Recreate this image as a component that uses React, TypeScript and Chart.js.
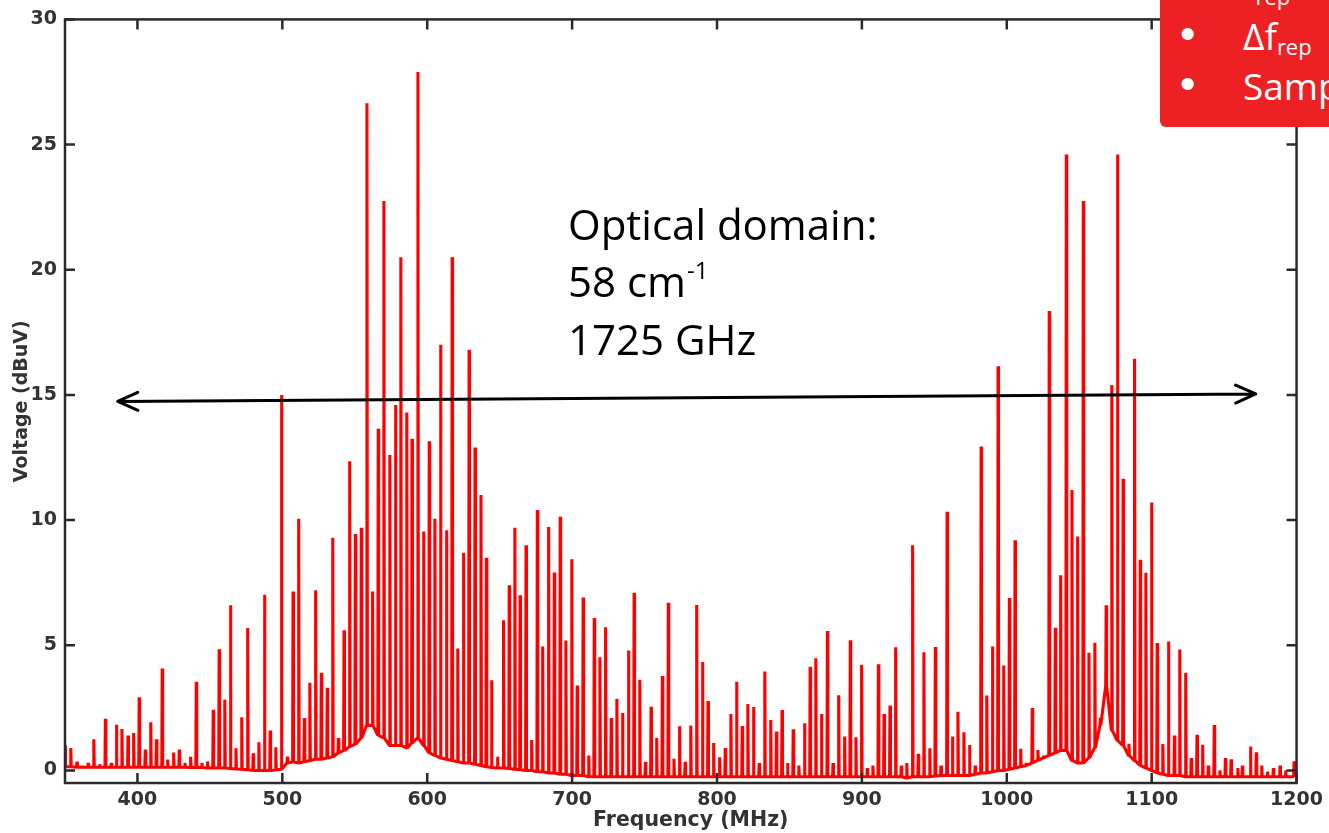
import React, { useEffect, useRef } from 'react';
import { Chart, registerables } from 'chart.js';

Chart.register(...registerables);

// ---------- axes ----------
const xRange = [350, 1200];
const yRange = [-0.5, 30];
const xTickValues = [400, 500, 600, 700, 800, 900, 1000, 1100, 1200];
const yTickValues = [0, 5, 10, 15, 20, 25, 30];
const xTitle = 'Frequency (MHz)';
const yTitle = 'Voltage (dBuV)';

// ---------- spectrum: [frequency MHz, peak dBuV, floor dBuV under the spike] ----------
const lowBandPeaks: [number, number, number][] = [
  [350.0, 1.0, 0.15], [354.0, 0.9, 0.15], [358.3, 0.35, 0.13], [362.1, 0.2, 0.13], [366.0, 0.3, 0.13],
  [369.9, 1.25, 0.13], [374.0, 0.25, 0.13], [377.9, 2.07, 0.13], [382.0, 0.3, 0.13], [385.5, 1.83, 0.13],
  [389.3, 1.66, 0.13], [393.5, 1.4, 0.13], [397.4, 1.5, 0.13], [401.2, 2.92, 0.13], [405.4, 0.84, 0.13],
  [409.2, 1.93, 0.13], [413.1, 1.25, 0.13], [417.1, 4.07, 0.13], [420.9, 0.44, 0.13], [425.0, 0.72, 0.13],
  [428.9, 0.84, 0.13], [432.8, 0.3, 0.13], [436.7, 0.55, 0.12], [440.6, 3.54, 0.12], [444.5, 0.3, 0.12],
  [448.4, 0.36, 0.1], [452.3, 2.43, 0.1], [456.4, 4.84, 0.1], [460.3, 2.83, 0.1], [464.2, 6.6, 0.08],
  [468.0, 0.89, 0.06], [472.0, 2.13, 0.05], [476.1, 5.69, 0.03], [479.9, 0.69, 0.0], [483.8, 1.13, 0.0],
  [487.7, 7.02, 0.0], [491.6, 1.6, 0.0], [495.5, 0.93, 0.02],
];

const firstClusterPeaks: [number, number, number][] = [
  [499.4, 15.0, 0.05], [503.5, 0.55, 0.3], [507.4, 7.15, 0.35], [511.3, 10.05, 0.3], [515.2, 2.1, 0.35],
  [519.0, 3.5, 0.4], [523.0, 7.2, 0.45], [526.9, 3.9, 0.45], [531.0, 3.3, 0.5], [534.8, 9.3, 0.55],
  [538.7, 1.3, 0.7], [542.6, 5.6, 0.8], [546.5, 12.35, 0.95], [550.4, 9.45, 1.05], [554.5, 9.7, 1.3],
  [558.4, 26.65, 1.8], [562.3, 7.15, 1.8], [566.2, 13.65, 1.4], [570.1, 22.75, 1.3], [574.2, 12.6, 1.0],
  [578.1, 14.6, 1.0], [581.8, 20.5, 1.0], [585.9, 14.3, 0.9], [589.5, 13.25, 1.1], [593.6, 27.9, 1.3],
  [597.6, 9.55, 1.0], [601.4, 13.15, 0.7], [605.3, 10.05, 0.6], [609.2, 17.0, 0.5], [613.3, 9.6, 0.45],
  [617.2, 20.5, 0.4], [621.1, 4.87, 0.35], [625.0, 8.7, 0.3], [628.9, 16.8, 0.3], [633.0, 12.9, 0.25],
  [637.1, 11.0, 0.2], [640.8, 8.5, 0.15], [644.4, 3.6, 0.12], [648.5, 0.55, 0.1],
];

const midBandPeaks: [number, number, number][] = [
  [652.7, 6.0, 0.1], [656.6, 7.4, 0.08], [660.5, 9.7, 0.05], [664.1, 7.0, 0.03], [668.2, 9.0, 0.0],
  [672.1, 1.22, 0.0], [676.0, 10.4, -0.05], [679.7, 4.95, -0.05], [683.8, 9.73, -0.1], [687.7, 7.91, -0.1],
  [691.8, 10.13, -0.15], [695.7, 5.19, -0.15], [699.8, 8.44, -0.2], [703.5, 3.39, -0.2], [707.6, 6.91, -0.2],
  [711.5, 0.6, -0.25], [715.3, 6.09, -0.25], [719.2, 4.52, -0.25], [723.1, 5.72, -0.25], [727.0, 2.1, -0.25],
  [730.9, 2.86, -0.25], [734.8, 2.3, -0.25], [738.9, 4.79, -0.25], [742.8, 7.1, -0.25], [746.7, 3.62, -0.25],
  [750.6, 0.35, -0.25], [754.5, 2.55, -0.25], [758.4, 1.3, -0.25], [762.3, 3.77, -0.25], [766.4, 6.7, -0.25],
  [770.3, 0.47, -0.25], [774.2, 1.77, -0.25], [778.0, 0.35, -0.25], [781.9, 1.8, -0.25], [786.0, 6.61, -0.25],
  [790.0, 4.33, -0.25], [793.8, 2.77, -0.25], [797.7, 1.1, -0.25], [801.8, 0.53, -0.25], [805.7, 0.9, -0.25],
  [809.6, 2.26, -0.25], [813.5, 3.54, -0.25], [817.4, 1.78, -0.25], [821.3, 2.66, -0.25], [825.2, 2.54, -0.25],
  [829.1, 0.3, -0.25], [833.0, 3.95, -0.25], [837.1, 2.02, -0.25], [841.0, 1.56, -0.25], [844.9, 2.42, -0.25],
  [848.7, 0.3, -0.25], [852.6, 1.65, -0.25], [856.5, 0.2, -0.25], [860.4, 1.89, -0.25], [864.3, 4.14, -0.25],
  [868.2, 4.48, -0.25], [872.1, 2.26, -0.25], [876.2, 5.57, -0.25], [880.1, 0.3, -0.25], [884.0, 3.0, -0.25],
  [888.1, 1.36, -0.25], [892.0, 5.2, -0.25], [895.9, 1.33, -0.25], [899.8, 4.22, -0.25], [903.7, 0.1, -0.25],
  [907.6, 0.2, -0.25], [911.4, 4.24, -0.25], [915.3, 2.26, -0.25], [919.4, 2.6, -0.25], [923.3, 4.92, -0.25],
  [927.2, 0.2, -0.25], [931.0, 0.3, -0.3], [935.0, 9.0, -0.25], [938.9, 0.67, -0.25], [942.8, 4.72, -0.25],
  [946.9, 0.89, -0.25], [950.7, 4.93, -0.22], [954.6, 0.2, -0.2], [958.8, 10.33, -0.2],
];

const secondClusterPeaks: [number, number, number][] = [
  [962.5, 1.36, -0.2], [966.3, 2.35, -0.2], [970.4, 1.53, -0.2], [974.3, 1.02, -0.2], [978.2, 0.2, -0.15],
  [982.3, 12.94, -0.1], [986.2, 2.99, -0.1], [990.1, 4.95, -0.05], [994.0, 16.15, 0.0], [997.9, 4.19, 0.0],
  [1001.8, 6.89, 0.05], [1005.7, 9.2, 0.1], [1009.6, 0.87, 0.15], [1013.5, 0.3, 0.2], [1017.6, 2.5, 0.3],
  [1021.5, 0.82, 0.4], [1025.3, 0.6, 0.5], [1029.3, 18.35, 0.6], [1033.5, 5.7, 0.7], [1037.2, 7.8, 0.8],
  [1041.1, 24.6, 0.8], [1045.0, 11.2, 0.4], [1048.9, 9.35, 0.3], [1052.8, 22.75, 0.3], [1056.7, 4.7, 0.5],
  [1060.8, 5.1, 0.9], [1064.6, 2.1, 1.8], [1068.6, 6.6, 3.4], [1072.5, 15.4, 1.6], [1076.4, 24.6, 1.2],
  [1080.3, 11.65, 1.0], [1084.3, 1.07, 0.6], [1088.2, 16.45, 0.4], [1092.1, 8.42, 0.2], [1096.0, 7.9, 0.1],
  [1099.9, 10.7, 0.0],
];

const highBandPeaks: [number, number, number][] = [
  [1103.8, 5.09, -0.1], [1107.7, 1.06, -0.15], [1111.6, 5.15, -0.2], [1115.7, 1.4, -0.2], [1119.4, 4.83, -0.2],
  [1123.5, 3.9, -0.25], [1127.3, 0.5, -0.25], [1131.3, 1.43, -0.25], [1135.2, 1.03, -0.25], [1139.1, 0.2, -0.25],
  [1143.2, 1.82, -0.25], [1147.1, 0.0, -0.25], [1150.9, 0.5, -0.25], [1154.8, 0.45, -0.25], [1159.5, 0.1, -0.25],
  [1162.6, 0.2, -0.25], [1168.2, 0.96, -0.25], [1172.2, 0.73, -0.25], [1176.0, 0.2, -0.25], [1180.0, -0.05, -0.25],
  [1184.0, 0.1, -0.25], [1188.6, 0.2, -0.25], [1192.5, 0.0, -0.25], [1198.3, 0.37, -0.25],
];

// ---------- annotation (data coordinates) ----------
const arrowFrom = [386.4, 14.74];
const arrowTo = [1171.8, 15.04];
const annotationLines = ['Optical domain:', '58 cm', '1725 GHz'];

const SPIKE_HALF_WIDTH = 0.3; // MHz

function buildSpectrum() {
  const all = [...lowBandPeaks, ...firstClusterPeaks, ...midBandPeaks, ...secondClusterPeaks, ...highBandPeaks];
  const pts: { x: number; y: number }[] = [];
  for (const [f, h, fl] of all) {
    pts.push({ x: f - SPIKE_HALF_WIDTH, y: fl });
    pts.push({ x: f, y: h });
    pts.push({ x: f + SPIKE_HALF_WIDTH, y: fl });
  }
  return pts;
}

const AXIS_COLOR = '#2a2a2a';
const LABEL_COLOR = '#333333';
const AXIS_FONT = 'DejaVu Sans';

const framePlugin = {
  id: 'matlabFrame',
  afterDatasetsDraw(chart: any) {
    const { ctx, chartArea: a, scales } = chart;
    const xs = scales.x;
    const ys = scales.y;
    ctx.save();
    // double-headed arrow
    const x1 = xs.getPixelForValue(arrowFrom[0]);
    const y1 = ys.getPixelForValue(arrowFrom[1]);
    const x2 = xs.getPixelForValue(arrowTo[0]);
    const y2 = ys.getPixelForValue(arrowTo[1]);
    ctx.strokeStyle = '#000';
    ctx.lineWidth = 3;
    ctx.lineCap = 'round';
    ctx.lineJoin = 'round';
    ctx.beginPath();
    ctx.moveTo(x1, y1);
    ctx.lineTo(x2, y2);
    const ang = Math.atan2(y2 - y1, x2 - x1);
    const hl = 22;
    const ha = 0.42;
    ctx.moveTo(x1 + hl * Math.cos(ang - ha), y1 + hl * Math.sin(ang - ha));
    ctx.lineTo(x1, y1);
    ctx.lineTo(x1 + hl * Math.cos(ang + ha), y1 + hl * Math.sin(ang + ha));
    ctx.moveTo(x2 - hl * Math.cos(ang - ha), y2 - hl * Math.sin(ang - ha));
    ctx.lineTo(x2, y2);
    ctx.lineTo(x2 - hl * Math.cos(ang + ha), y2 - hl * Math.sin(ang + ha));
    ctx.stroke();

    // frame
    ctx.lineCap = 'butt';
    ctx.lineJoin = 'miter';
    ctx.strokeStyle = AXIS_COLOR;
    ctx.lineWidth = 2.5;
    ctx.strokeRect(a.left, a.top, a.right - a.left, a.bottom - a.top);
    // inward ticks on all sides
    const tl = 10;
    ctx.beginPath();
    for (const v of xTickValues) {
      const px = xs.getPixelForValue(v);
      ctx.moveTo(px, a.bottom);
      ctx.lineTo(px, a.bottom - tl);
      ctx.moveTo(px, a.top);
      ctx.lineTo(px, a.top + tl);
    }
    for (const v of yTickValues) {
      const py = ys.getPixelForValue(v);
      ctx.moveTo(a.left, py);
      ctx.lineTo(a.left + tl, py);
      ctx.moveTo(a.right, py);
      ctx.lineTo(a.right - tl, py);
    }
    ctx.stroke();

    // x axis title
    ctx.fillStyle = LABEL_COLOR;
    ctx.font = `bold 20.5px "${AXIS_FONT}"`;
    ctx.textAlign = 'center';
    ctx.textBaseline = 'middle';
    ctx.fillText(xTitle, (a.left + a.right) / 2 + 10, 821);
    ctx.restore();
  },
};

export default function App() {
  const canvasRef = useRef<HTMLCanvasElement>(null);

  useEffect(() => {
    const canvas = canvasRef.current;
    if (!canvas) return;
    const tickFont = { family: AXIS_FONT, weight: 'bold' as const, size: 19 };
    const chart = new Chart(canvas, {
      type: 'line',
      data: {
        datasets: [
          {
            data: buildSpectrum(),
            borderColor: '#ff0000',
            borderWidth: 3.1,
            pointRadius: 0,
            fill: false,
            tension: 0,
            borderJoinStyle: 'bevel',
          } as any,
        ],
      },
      options: {
        animation: false,
        responsive: true,
        maintainAspectRatio: false,
        events: [],
        layout: { padding: { top: 18, right: 26, left: 0, bottom: 0 } },
        plugins: { legend: { display: false }, tooltip: { enabled: false }, title: { display: false } },
        scales: {
          x: {
            type: 'linear',
            min: xRange[0],
            max: xRange[1],
            afterBuildTicks: (s: any) => {
              s.ticks = xTickValues.map((v) => ({ value: v }));
            },
            afterFit: (s: any) => {
              s.height = 50;
            },
            grid: { display: false, drawTicks: false },
            border: { display: false },
            ticks: {
              padding: 6,
              color: LABEL_COLOR,
              font: tickFont,
              maxRotation: 0,
              autoSkip: false,
              callback: (v: any) => String(v),
            },
          },
          y: {
            type: 'linear',
            min: yRange[0],
            max: yRange[1],
            afterBuildTicks: (s: any) => {
              s.ticks = yTickValues.map((v) => ({ value: v }));
            },
            afterFit: (s: any) => {
              s.width = 65;
            },
            grid: { display: false, drawTicks: false },
            border: { display: false },
            ticks: {
              padding: 8,
              color: LABEL_COLOR,
              font: tickFont,
              autoSkip: false,
              callback: (v: any) => String(v),
            },
            title: {
              display: true,
              text: yTitle,
              color: LABEL_COLOR,
              font: { family: AXIS_FONT, weight: 'bold', size: 19 },
              padding: { top: 11, bottom: 0 },
            },
          },
        },
      },
      plugins: [framePlugin],
    });
    return () => chart.destroy();
  }, []);

  const annFont = 42;
  const annBase = [240, 297, 355];
  const boxFont = 37;
  const subFont = 22;

  return (
    <div
      style={{
        position: 'fixed',
        left: 0,
        top: 0,
        width: 1329,
        height: 833,
        overflow: 'hidden',
        background: '#ffffff',
      }}
    >
      <div style={{ position: 'absolute', left: 0, top: 0, width: 1329, height: 833 }}>
        <canvas ref={canvasRef} />
      </div>

      {annotationLines.map((t, i) => (
        <div
          key={i}
          style={{
            position: 'absolute',
            left: 568,
            top: annBase[i] - 0.388 * annFont,
            fontFamily: '"Open Sans"',
            fontSize: annFont,
            lineHeight: 0,
            color: '#000',
            whiteSpace: 'nowrap',
          }}
        >
          {t}
          {i === 1 && (
            <span style={{ fontSize: 24, position: 'relative', top: -18, marginLeft: 1 }}>-1</span>
          )}
        </div>
      ))}

      <div
        style={{
          position: 'absolute',
          left: 1160,
          top: -30,
          width: 200,
          height: 157,
          background: '#ed2024',
          borderRadius: 6,
        }}
      />
      {[
        { base: 0, main: 'f', sub: 'rep', bullet: false },
        { base: 50, main: 'Δf', sub: 'rep', bullet: true },
        { base: 100, main: 'Samp', sub: '', bullet: true },
      ].map((l, i) => (
        <React.Fragment key={i}>
          {l.bullet && (
            <div
              style={{
                position: 'absolute',
                left: 1180,
                top: l.base + 1 - 0.388 * 44,
                fontFamily: 'Arial, "Liberation Sans"',
                fontSize: 44,
                lineHeight: 0,
                color: '#fff',
                whiteSpace: 'nowrap',
              }}
            >
              •
            </div>
          )}
          <div
            style={{
              position: 'absolute',
              left: 1243,
              top: l.base - 0.388 * boxFont,
              fontFamily: '"Open Sans"',
              fontSize: boxFont,
              lineHeight: 0,
              color: '#fff',
              whiteSpace: 'nowrap',
            }}
          >
            {l.main}
            {l.sub && <span style={{ fontSize: subFont, position: 'relative', top: 5 }}>{l.sub}</span>}
          </div>
        </React.Fragment>
      ))}
    </div>
  );
}
